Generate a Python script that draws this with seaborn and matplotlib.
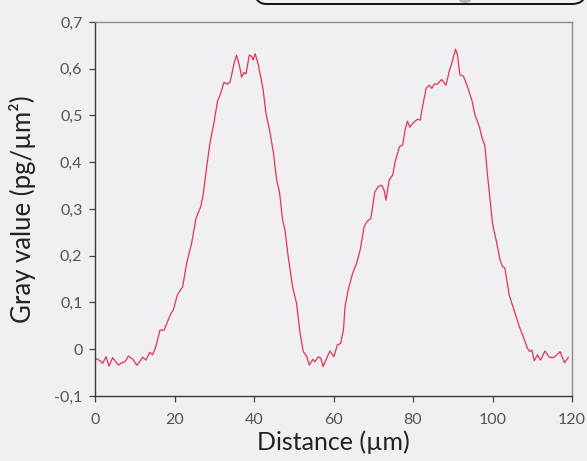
import numpy as np
import pandas as pd
import matplotlib
matplotlib.use("Agg")
import matplotlib.pyplot as plt
from matplotlib.patches import FancyBboxPatch, Ellipse
from matplotlib.transforms import IdentityTransform
from matplotlib.ticker import FuncFormatter
import seaborn as sns

distance = [0.0, 1.26, 1.93, 2.77, 3.52, 4.44, 5.87, 6.7, 7.5, 8.4, 9.5, 10.5, 11.2, 12.0, 12.8,
            13.8, 14.5, 15.3, 16.35, 17.4, 19.0, 19.7, 20.7, 22.06, 23.06, 24.3, 25.4, 26.6,
            27.2, 28.1, 28.9, 29.9, 30.8, 31.6, 32.45, 33.3, 34.0, 35.0, 35.6, 36.3, 36.9,
            37.5, 38.0, 38.8, 39.4, 39.8, 40.3, 41.1, 41.5, 42.3, 43.0, 44.0, 44.9, 45.7,
            46.4, 47.2, 47.8, 48.6, 49.7, 50.7, 51.6, 52.4, 53.3, 53.9, 54.8, 55.3, 56.2,
            56.8, 57.4, 58.1, 59.1, 60.1, 60.96, 61.8, 62.5, 62.9, 63.7, 64.8, 65.8, 66.7,
            67.7, 68.4, 69.4, 70.4, 71.3, 72.1, 72.7, 73.2, 74.0, 74.9, 75.5, 76.6, 77.4,
            78.0, 78.6, 79.2, 79.9, 81.1, 81.8, 82.4, 83.3, 84.1, 84.7, 85.3, 86.1, 87.2,
            88.3, 89.1, 90.0, 90.7, 91.2, 91.8, 92.7, 93.7, 94.8, 95.6, 96.7, 97.4, 98.1,
            98.7, 99.4, 100.0, 100.9, 101.9, 102.5, 103.1, 104.2, 105.4, 106.9, 107.9,
            108.8, 109.4, 109.9, 110.5, 111.3, 112.1, 113.2, 114.3, 115.3, 116.2, 117.0,
            118.1, 119.1]
gray_value = [-0.019, -0.0245, -0.030, -0.016, -0.036, -0.018, -0.034, -0.029, -0.027, -0.0145,
              -0.0215, -0.034, -0.027, -0.017, -0.023, -0.0066, -0.012, 0.0055, 0.041, 0.041,
              0.075, 0.084, 0.116, 0.134, 0.184, 0.2266, 0.280, 0.305, 0.330, 0.390, 0.44,
              0.483, 0.530, 0.547, 0.571, 0.567, 0.572, 0.612, 0.629, 0.608, 0.582, 0.592,
              0.589, 0.629, 0.627, 0.619, 0.632, 0.608, 0.590, 0.555, 0.505, 0.465, 0.419,
              0.362, 0.337, 0.276, 0.255, 0.198, 0.134, 0.098, 0.034, -0.005, -0.016, -0.034,
              -0.0215, -0.027, -0.016, -0.019, -0.037, -0.023, -0.0037, -0.016, 0.009, 0.0127,
              0.041, 0.091, 0.127, 0.162, 0.184, 0.212, 0.262, 0.273, 0.280, 0.337, 0.348,
              0.351, 0.341, 0.319, 0.362, 0.373, 0.401, 0.433, 0.437, 0.469, 0.488, 0.475,
              0.483, 0.492, 0.490, 0.519, 0.558, 0.565, 0.558, 0.567, 0.567, 0.577, 0.565,
              0.594, 0.619, 0.642, 0.629, 0.587, 0.584, 0.562, 0.533, 0.501, 0.476, 0.451,
              0.435, 0.376, 0.319, 0.269, 0.234, 0.191, 0.177, 0.174, 0.116, 0.084, 0.045,
              0.023, 0.002, -0.005, -0.0016, -0.0245, -0.012, -0.023, -0.0037, -0.017, -0.018,
              -0.012, -0.005, -0.029, -0.017]

x_ticks = [0, 20, 40, 60, 80, 100, 120]
y_ticks = [-0.1, 0.0, 0.1, 0.2, 0.3, 0.4, 0.5, 0.6, 0.7]
x_label = "Distance (µm)"
y_label = "Gray value (pg/µm²)"

df = pd.DataFrame({"Distance": distance, "Gray": gray_value})

bg = "#f0f0f3"
sns.set_theme(style="white")
plt.rcParams["font.family"] = ["Lato", "DejaVu Sans"]

fig = plt.figure(figsize=(5.87, 4.61), dpi=100, facecolor=bg)
ax = fig.add_axes([95 / 587, 1 - 396 / 461, 477 / 587, 374 / 461])
ax.set_facecolor(bg)

sns.lineplot(data=df, x="Distance", y="Gray", ax=ax, color="#e8344f", linewidth=0.9)

ax.set_xlim(0, 120)
ax.set_ylim(-0.1, 0.7)
ax.set_xticks(x_ticks)
ax.set_yticks(y_ticks)


def fmt(v, pos):
    if abs(v) < 1e-9:
        return "0"
    return f"{v:.1f}".replace(".", ",")


ax.yaxis.set_major_formatter(FuncFormatter(fmt))
ax.xaxis.set_major_formatter(FuncFormatter(lambda v, p: f"{int(round(v))}"))
ax.tick_params(axis="both", which="major", direction="out", length=4, width=0.9,
               color="#444444", labelcolor="#555555", labelsize=11.5, pad=5,
               bottom=True, left=True)
ax.tick_params(axis="x", pad=8)

for side in ["left", "bottom"]:
    ax.spines[side].set_color("#3a3a3a")
    ax.spines[side].set_linewidth(1.0)
for side in ["top", "right"]:
    ax.spines[side].set_color("#8a8a8a")
    ax.spines[side].set_linewidth(1.0)

ax.set_xlabel(x_label, fontsize=18, color="#222222", labelpad=3)
ax.set_ylabel(y_label, fontsize=18.5, color="#222222", labelpad=13)

# partially visible rounded box at the top right
box = FancyBboxPatch((252, 457), 334, 40, boxstyle="round,pad=0,rounding_size=14",
                     transform=IdentityTransform(), facecolor="none", edgecolor="#111111",
                     linewidth=1.4, clip_on=False)
fig.patches.append(box)
blob = Ellipse((465, 461), 12, 6, transform=IdentityTransform(), facecolor="#9a9a9a",
               edgecolor="none", alpha=0.7)
fig.patches.append(blob)

fig.savefig("out.png", dpi=100, facecolor=bg)
